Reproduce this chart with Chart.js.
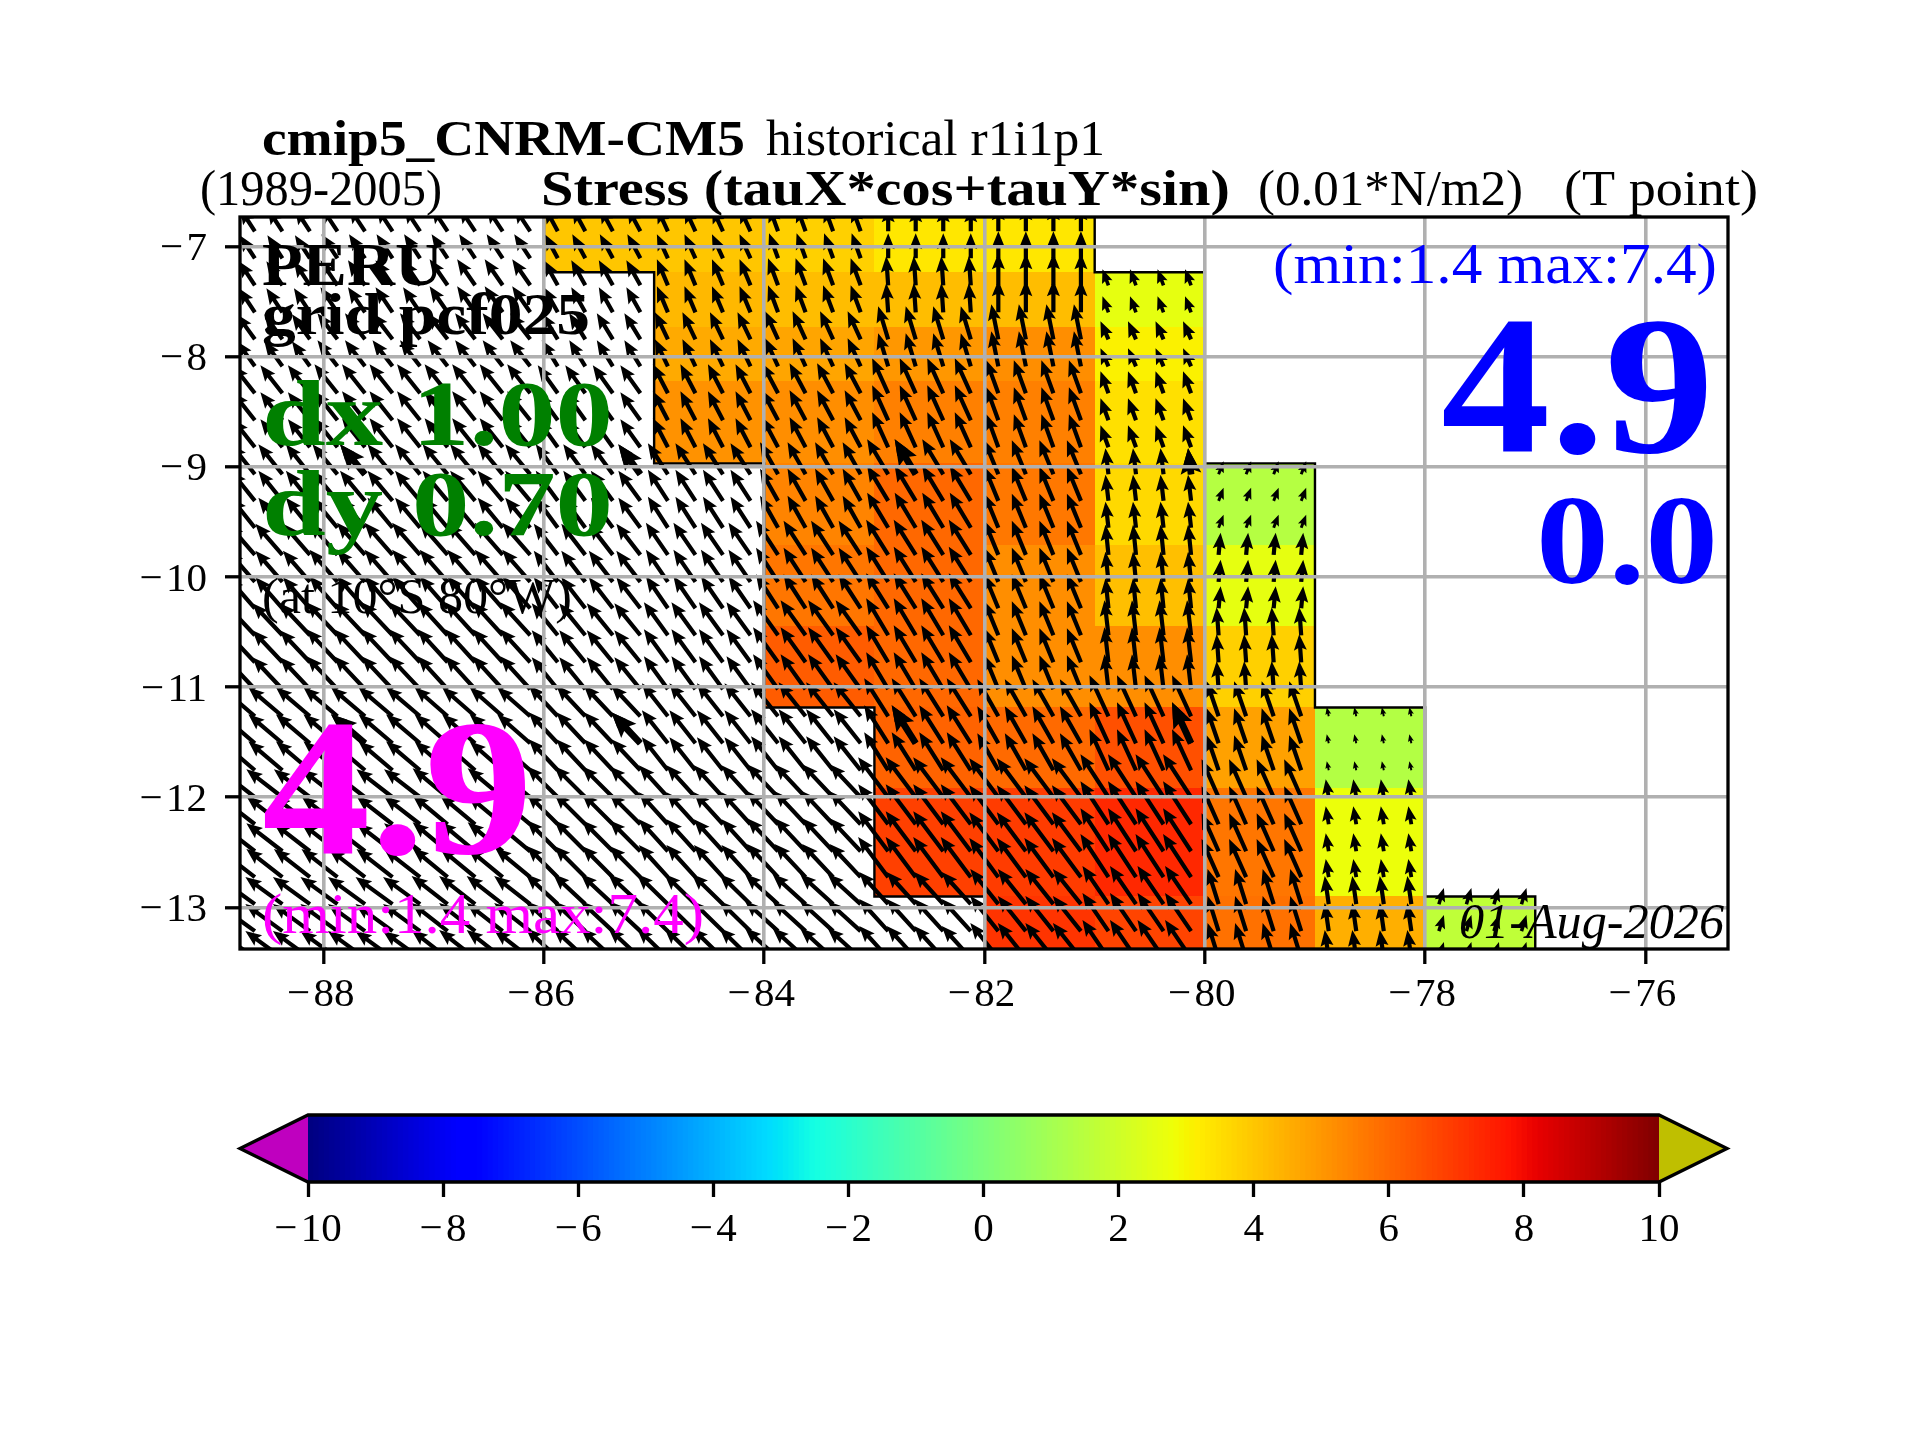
<!DOCTYPE html>
<html>
<head>
<meta charset="utf-8">
<title>cmip5_CNRM-CM5 stress</title>
<script src="https://cdn.jsdelivr.net/npm/chart.js@4/dist/chart.umd.min.js"></script>
<style>
    body { margin: 0; background: #fff; }
    canvas { position: absolute; left: 0; }
    #mapChart { top: 0; }
    #barChart { top: 1090px; }
</style>
</head>
<body>
<canvas id="mapChart" width="1920" height="1090"></canvas>
<canvas id="barChart" width="1920" height="350"></canvas>
<script>
// axis ranges and ticks
const lonRange = [-88.76, -75.25];
const latRange = [-13.377, -6.734];
const lonTicks = [-88, -86, -84, -82, -80, -78, -76];
const latTicks = [-13, -12, -11, -10, -9, -8, -7];
const colorbarTicks = [-10, -8, -6, -4, -2, 0, 2, 4, 6, 8, 10];

// coarse cell edges
const cellLonEdges = [-86, -85, -84, -83, -82, -81, -80, -79, -78, -77];
const cellLatEdges = [-6.5, -7.236, -7.735, -8.22, -8.97, -9.713, -10.445, -11.185, -11.92, -12.9, -13.6];

// stress per cell, north to south, west to east (null = no colour)
const cellValues = [
    [4.0,  4.0,  3.8,  3.3,  3.3,  null, null, null, null],
    [null, 4.3,  4.2,  4.2,  4.2,  2.6,  null, null, null],
    [null, 4.6,  4.7,  5.0,  5.2,  3.1,  null, null, null],
    [null, 5.1,  5.2,  5.5,  5.5,  3.45, null, null, null],
    [null, null, 5.4,  6.0,  5.65, 3.6,  1.4,  null, null],
    [null, null, 5.7,  6.0,  5.2,  4.15, 2.6,  null, null],
    [null, null, 6.25, 6.0,  5.2,  5.2,  3.8,  null, null],
    [null, null, null, 6.1,  5.95, 6.5,  4.8,  1.35, null],
    [null, null, null, 6.85, 6.93, 7.35, 5.7,  2.75, null],
    [null, null, null, null, 7.1,  6.75, 5.8,  4.5,  1.65]
];

// black outline round the coloured block
const westOutlineLon = [-86, -86, -85, -85, -84, -84, -83, -83, -82, -82];
const westOutlineLat = [-6.74, -7.236, -7.236, -8.97, -8.97, -11.185, -11.185, -12.9, -12.9, -13.38];
const eastOutlineLon = [-81, -81, -80, -80, -79, -79, -78, -78, -77, -77];
const eastOutlineLat = [-6.74, -7.236, -7.236, -8.97, -8.97, -11.185, -11.185, -12.9, -12.9, -13.38];

// arrow tails
const arrowLons = [
    -88.625, -88.375, -88.125, -87.875, -87.625, -87.375, -87.125, -86.875, -86.625, -86.375, -86.125,
    -85.875, -85.625, -85.375, -85.125, -84.875, -84.625, -84.375, -84.125, -83.875, -83.625, -83.375, -83.125,
    -82.875, -82.625, -82.375, -82.125, -81.875, -81.625, -81.375, -81.125, -80.875, -80.625, -80.375, -80.125,
    -79.875, -79.625, -79.375, -79.125, -78.875, -78.625, -78.375, -78.125, -77.875, -77.625, -77.375, -77.125
];
const arrowLats = [
    -6.864, -7.109, -7.354, -7.599, -7.844, -8.089, -8.334, -8.579, -8.824, -9.069, -9.31, -9.554, -9.8, -10.045,
    -10.285, -10.53, -10.775, -11.02, -11.265, -11.51, -11.755, -12.0, -12.245, -12.49, -12.725, -12.97, -13.215, -13.46
];
// longitude columns of the vector tables
const arrowCols = [-89, -88, -87, -86, -85, -84, -83, -82, -81, -80, -79, -78];
// eastward and northward parts per lat band, in hundredths of a degree or so
const arrowU = [
    [-15, -16, -16, -13, -11, -9,  0,   0,   null, null, null, null],
    [-16, -17, -18, -14, -11, -10, -2,  0,   -6,   null, null, null],
    [-18, -20, -20, -16, -13, -13, -10, -7,  -8,   null, null, null],
    [-22, -23, -23, -20, -15, -16, -16, -12, -8,   null, null, null],
    [-24, -25, -25, -22, -20, -18, -21, -14, -3,   5,    null, null],
    [-27, -28, -28, -24, -22, -22, -22, -14, -3,   2,    null, null],
    [-30, -31, -30, -26, -24, -25, -22, -14, -4,   -2,   null, null],
    [-34, -34, -33, -29, -26, -27, -24, -21, -19,  -12,  -2,   null],
    [-36, -36, -35, -31, -29, -31, -30, -29, -28,  -17,  -3,   null],
    [-37, -37, -36, -32, -31, -33, -29, -28, -26,  -11,  -4,   5]
];
const arrowV = [
    [23, 24, 24, 24, 24, 25, 25, 27, null, null, null, null],
    [24, 25, 26, 25, 26, 27, 29, 32, 16,   null, null, null],
    [25, 26, 26, 26, 27, 28, 33, 35, 18,   null, null, null],
    [28, 29, 29, 28, 29, 30, 35, 33, 22,   null, null, null],
    [30, 30, 30, 30, 31, 32, 35, 34, 26,   13,   null, null],
    [31, 32, 32, 31, 32, 34, 35, 34, 30,   22,   null, null],
    [32, 33, 33, 32, 33, 35, 37, 34, 35,   28,   null, null],
    [29, 29, 29, 31, 33, 34, 38, 37, 41,   35,   9,    null],
    [28, 28, 29, 31, 32, 33, 40, 39, 43,   38,   18,   null],
    [27, 27, 28, 30, 30, 30, 32, 35, 38,   35,   28,   16]
];
// the few arrows that are drawn heavier
const heavyArrowLons = [-87.625, -85.125, -82.625, -80.125];
const heavyArrowLats = [-9.069, -11.51];

const SERIF = '"Liberation Serif", serif';
const degPerUnit = 1 / 110;

// text over the map: [text, left px, right px, baseline px, font, colour]
const mapTexts = [
    ['cmip5_CNRM-CM5', 262, 745, 154.5, 'bold 50px ' + SERIF, '#000'],
    ['historical r1i1p1', 766, 1105, 154.5, '50px ' + SERIF, '#000'],
    ['(1989-2005)', 200, 442, 204.5, '50px ' + SERIF, '#000'],
    ['Stress (tauX*cos+tauY*sin)', 541, 1230, 204.5, 'bold 50px ' + SERIF, '#000'],
    ['(0.01*N/m2)', 1258, 1523, 204.5, '50px ' + SERIF, '#000'],
    ['(T point)', 1564, 1758, 204.5, '50px ' + SERIF, '#000'],
    ['PERU', 262, 443, 285, 'bold 62px ' + SERIF, '#000'],
    ['grid pcf025', 262, 590, 334, 'bold 60px ' + SERIF, '#000'],
    ['dx 1.00', 262, 613, 445, 'bold 94px ' + SERIF, '#008000'],
    ['dy 0.70', 262, 613, 535, 'bold 94px ' + SERIF, '#008000'],
    ['(at 10°S 80°W)', 262, 572, 613, '50px ' + SERIF, '#000'],
    ['4.9', 262, 533, 853, 'bold 194px ' + SERIF, '#ff00ff'],
    ['(min:1.4 max:7.4)', 262, 704, 933, '56px ' + SERIF, '#ff00ff'],
    ['(min:1.4 max:7.4)', 1273, 1717, 283, '56px ' + SERIF, '#0000ff'],
    ['4.9', 1441, 1714, 452, 'bold 198px ' + SERIF, '#0000ff'],
    ['0.0', 1536, 1718, 583, 'bold 127px ' + SERIF, '#0000ff'],
    ['01-Aug-2026', 1459, 1724, 938, 'italic 50px ' + SERIF, '#000']
];

// jet colour map, breakpoints as in matplotlib
const jetRed = [[0, 0], [0.35, 0], [0.66, 1], [0.89, 1], [1, 0.5]];
const jetGreen = [[0, 0], [0.125, 0], [0.375, 1], [0.64, 1], [0.91, 0], [1, 0]];
const jetBlue = [[0, 0.5], [0.11, 1], [0.34, 1], [0.65, 0], [1, 0]];

function jetChannel(stops, t) {
    for (let i = 1; i < stops.length; i++) {
        if (t <= stops[i][0]) {
            const a = stops[i - 1];
            const b = stops[i];
            return a[1] + (b[1] - a[1]) * (t - a[0]) / (b[0] - a[0]);
        }
    }
    return stops[stops.length - 1][1];
}

function jetColor(value) {
    const t = Math.max(0, Math.min(1, (value + 10) / 20));
    const r = Math.round(255 * jetChannel(jetRed, t));
    const g = Math.round(255 * jetChannel(jetGreen, t));
    const b = Math.round(255 * jetChannel(jetBlue, t));
    return `rgb(${r},${g},${b})`;
}

// the hair space makes the minus as wide as the reference one
function minusLabel(value) {
    return String(value).replace('-', '\u2212\u200a');
}

function lookupBand(lat) {
    for (let i = 0; i < cellLatEdges.length - 1; i++) {
        if (lat > cellLatEdges[i + 1]) return i;
    }
    return cellLatEdges.length - 2;
}

function drawArrow(ctx, x0, y0, x1, y1, weight) {
    const dx = x1 - x0;
    const dy = y1 - y0;
    const len = Math.hypot(dx, dy);
    if (len === 0) return;
    const s = Math.min(1, len / 20) * weight;
    const shaft = 4.2 * s / 2;
    const headLen = 16 * s;
    const headBack = 14 * s;
    const headW = 13 * s / 2;
    ctx.save();
    ctx.translate(x1, y1);
    ctx.rotate(Math.atan2(dy, dx));
    ctx.beginPath();
    ctx.moveTo(0, 0);
    ctx.lineTo(-headLen, headW);
    ctx.lineTo(-headBack, shaft);
    ctx.lineTo(-len, shaft);
    ctx.lineTo(-len, -shaft);
    ctx.lineTo(-headBack, -shaft);
    ctx.lineTo(-headLen, -headW);
    ctx.closePath();
    ctx.fill();
    ctx.restore();
}

function drawOneArrow(chart, lon, lat, weight) {
    const band = lookupBand(lat);
    const col = arrowCols.indexOf(Math.floor(lon));
    const u = arrowU[band][col];
    const v = arrowV[band][col];
    if (u === null || v === null) return;
    const xs = chart.scales.x;
    const ys = chart.scales.y;
    drawArrow(chart.ctx,
        xs.getPixelForValue(lon), ys.getPixelForValue(lat),
        xs.getPixelForValue(lon + u * degPerUnit), ys.getPixelForValue(lat + v * degPerUnit),
        weight);
}

// coloured cells under the datasets
const cellPlugin = {
    id: 'cells',
    beforeDatasetsDraw(chart) {
        const ctx = chart.ctx;
        const area = chart.chartArea;
        const xs = chart.scales.x;
        const ys = chart.scales.y;
        ctx.save();
        ctx.beginPath();
        ctx.rect(area.left, area.top, area.right - area.left, area.bottom - area.top);
        ctx.clip();
        cellValues.forEach((row, r) => {
            row.forEach((value, c) => {
                if (value === null) return;
                const x0 = xs.getPixelForValue(cellLonEdges[c]);
                const x1 = xs.getPixelForValue(cellLonEdges[c + 1]);
                const y0 = ys.getPixelForValue(cellLatEdges[r]);
                const y1 = ys.getPixelForValue(cellLatEdges[r + 1]);
                ctx.fillStyle = jetColor(value);
                ctx.fillRect(Math.round(x0), Math.round(y0), Math.round(x1) - Math.round(x0), Math.round(y1) - Math.round(y0));
            });
        });
        ctx.restore();
    }
};

// arrows, below the grid (the grid has z 1)
const arrowPlugin = {
    id: 'arrows',
    afterDatasetsDraw(chart) {
        const ctx = chart.ctx;
        const area = chart.chartArea;
        ctx.save();
        ctx.beginPath();
        ctx.rect(area.left, area.top, area.right - area.left, area.bottom - area.top);
        ctx.clip();
        ctx.fillStyle = '#000';
        arrowLats.forEach(lat => {
            arrowLons.forEach(lon => drawOneArrow(chart, lon, lat, 1));
        });
        heavyArrowLats.forEach(lat => {
            heavyArrowLons.forEach(lon => drawOneArrow(chart, lon, lat, 1.6));
        });
        ctx.restore();
    }
};

// frame and texts on top of everything
const framePlugin = {
    id: 'frame',
    afterDraw(chart) {
        const ctx = chart.ctx;
        const area = chart.chartArea;
        ctx.save();
        ctx.strokeStyle = '#000';
        ctx.lineWidth = 3.3;
        ctx.strokeRect(area.left, area.top, area.right - area.left, area.bottom - area.top);
        ctx.textBaseline = 'alphabetic';
        ctx.textAlign = 'left';
        mapTexts.forEach(([text, left, right, baseline, font, color]) => {
            ctx.font = font;
            ctx.fillStyle = color;
            const w = ctx.measureText(text).width;
            ctx.save();
            ctx.translate(left, baseline);
            ctx.scale((right - left) / w, 1);
            ctx.fillText(text, 0, 0);
            ctx.restore();
        });
        ctx.restore();
    }
};

// colour ramp and the two end triangles
const rampPlugin = {
    id: 'ramp',
    beforeDatasetsDraw(chart) {
        const ctx = chart.ctx;
        const area = chart.chartArea;
        const xs = chart.scales.x;
        const midY = (area.top + area.bottom) / 2;
        const tipW = 68;
        ctx.save();
        for (let i = 0; i < 256; i++) {
            const x0 = xs.getPixelForValue(-10 + 20 * i / 256);
            const x1 = xs.getPixelForValue(-10 + 20 * (i + 1) / 256);
            ctx.fillStyle = jetColor(-10 + 20 * (i + 0.5) / 256);
            ctx.fillRect(x0, area.top, x1 - x0 + 1, area.bottom - area.top);
        }
        ctx.beginPath();
        ctx.moveTo(area.left, area.top);
        ctx.lineTo(area.left - tipW, midY);
        ctx.lineTo(area.left, area.bottom);
        ctx.closePath();
        ctx.fillStyle = '#bf00bf';
        ctx.fill();
        ctx.beginPath();
        ctx.moveTo(area.right, area.top);
        ctx.lineTo(area.right + tipW, midY);
        ctx.lineTo(area.right, area.bottom);
        ctx.closePath();
        ctx.fillStyle = '#bfbf00';
        ctx.fill();
        ctx.beginPath();
        ctx.moveTo(area.left, area.top);
        ctx.lineTo(area.right, area.top);
        ctx.lineTo(area.right + tipW, midY);
        ctx.lineTo(area.right, area.bottom);
        ctx.lineTo(area.left, area.bottom);
        ctx.lineTo(area.left - tipW, midY);
        ctx.closePath();
        ctx.strokeStyle = '#000';
        ctx.lineWidth = 3.3;
        ctx.stroke();
        ctx.restore();
    }
};

function outlineData(lons, lats) {
    return lons.map((lon, i) => ({ x: lon, y: lats[i] }));
}

function outlineDataset(lons, lats) {
    return {
        type: 'scatter',
        data: outlineData(lons, lats),
        showLine: true,
        borderColor: '#000',
        borderWidth: 2.4,
        pointRadius: 0,
        fill: false
    };
}

function axisTicks(list) {
    return function(scale) {
        scale.ticks = list.map(v => ({ value: v }));
    };
}

// main map
new Chart(document.getElementById('mapChart').getContext('2d'), {
    type: 'scatter',
    data: {
        datasets: [
            outlineDataset(westOutlineLon, westOutlineLat),
            outlineDataset(eastOutlineLon, eastOutlineLat)
        ]
    },
    options: {
        responsive: false,
        animation: false,
        devicePixelRatio: 1,
        layout: { padding: { top: 217, right: 192, left: 0, bottom: 0 } },
        plugins: { legend: { display: false }, tooltip: { enabled: false } },
        scales: {
            x: {
                type: 'linear',
                min: lonRange[0],
                max: lonRange[1],
                afterBuildTicks: axisTicks(lonTicks),
                afterFit: scale => { scale.height = 141; },
                border: { display: false },
                grid: { color: '#b0b0b0', lineWidth: 3.6, tickColor: '#000', tickWidth: 3.3, tickLength: 15, z: 1 },
                ticks: {
                    color: '#000',
                    padding: 7,
                    labelOffset: -3,
                    maxRotation: 0,
                    font: { family: SERIF, size: 41 },
                    callback: minusLabel
                }
            },
            y: {
                type: 'linear',
                min: latRange[0],
                max: latRange[1],
                afterBuildTicks: axisTicks(latTicks),
                afterFit: scale => { scale.width = 240; },
                border: { display: false },
                grid: { color: '#b0b0b0', lineWidth: 3.6, tickColor: '#000', tickWidth: 3.3, tickLength: 15, z: 1 },
                ticks: {
                    color: '#000',
                    padding: 18,
                    labelOffset: 3,
                    font: { family: SERIF, size: 41 },
                    callback: minusLabel
                }
            }
        }
    },
    plugins: [cellPlugin, arrowPlugin, framePlugin]
});

// colour bar
new Chart(document.getElementById('barChart').getContext('2d'), {
    type: 'scatter',
    data: { datasets: [] },
    options: {
        responsive: false,
        animation: false,
        devicePixelRatio: 1,
        layout: { padding: { top: 25, right: 261, left: 308, bottom: 0 } },
        plugins: { legend: { display: false }, tooltip: { enabled: false } },
        scales: {
            x: {
                type: 'linear',
                min: -10,
                max: 10,
                afterBuildTicks: axisTicks(colorbarTicks),
                afterFit: scale => { scale.height = 258; },
                border: { display: false },
                grid: { drawOnChartArea: false, tickColor: '#000', tickWidth: 3.3, tickLength: 15 },
                ticks: {
                    color: '#000',
                    padding: 9,
                    maxRotation: 0,
                    autoSkip: false,
                    font: { family: SERIF, size: 41 },
                    callback: minusLabel
                }
            },
            y: { display: false, min: 0, max: 1 }
        }
    },
    plugins: [rampPlugin]
});
</script>
</body>
</html>
